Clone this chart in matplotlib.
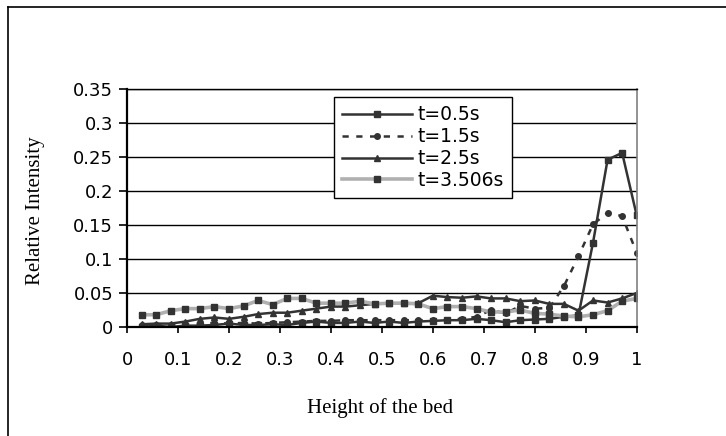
import numpy as np
import matplotlib
matplotlib.use("Agg")
from matplotlib import pyplot as plt
from matplotlib.lines import Line2D


# bed height positions (35 equally spaced samples)
height = np.arange(1, 36) / 35

# relative intensity, one list per time
t_05 = [0.000, 0.002, 0.000, 0.002, 0.002, 0.003, 0.005, 0.003, 0.003, 0.004,
        0.003, 0.006, 0.008, 0.006, 0.006, 0.008, 0.006, 0.008, 0.006, 0.008,
        0.009, 0.010, 0.010, 0.012, 0.010, 0.007, 0.010, 0.011, 0.012, 0.015,
        0.017, 0.124, 0.246, 0.256, 0.164]
t_15 = [0.003, 0.003, 0.003, 0.004, 0.005, 0.006, 0.005, 0.006, 0.005, 0.006,
        0.007, 0.008, 0.009, 0.009, 0.010, 0.010, 0.010, 0.010, 0.010, 0.010,
        0.010, 0.011, 0.012, 0.015, 0.025, 0.020, 0.031, 0.027, 0.028, 0.060,
        0.104, 0.151, 0.168, 0.163, 0.109]
t_25 = [0.004, 0.005, 0.005, 0.008, 0.012, 0.014, 0.012, 0.015, 0.019, 0.021,
        0.021, 0.024, 0.027, 0.030, 0.030, 0.032, 0.034, 0.035, 0.035, 0.035,
        0.046, 0.044, 0.043, 0.045, 0.042, 0.042, 0.038, 0.039, 0.034, 0.034,
        0.024, 0.039, 0.036, 0.042, 0.050]
t_3506 = [0.018, 0.018, 0.024, 0.027, 0.027, 0.030, 0.027, 0.031, 0.039, 0.033,
          0.042, 0.042, 0.035, 0.035, 0.035, 0.038, 0.034, 0.035, 0.035, 0.034,
          0.027, 0.030, 0.030, 0.027, 0.022, 0.022, 0.025, 0.020, 0.019, 0.016,
          0.015, 0.018, 0.024, 0.038, 0.042]

labels = ["t=0.5s", "t=1.5s", "t=2.5s", "t=3.506s"]

dark = "#333333"

fig = plt.figure(figsize=(7.26, 4.36), dpi=100)
ax = fig.add_axes([0.175, 0.25, 0.702, 0.546])

ax.plot(height, t_05, color=dark, lw=1.8, marker="s", ms=4, label=labels[0])
ax.plot(height, t_15, color=dark, lw=1.8, ls=(0, (2.5, 3)), marker="o", ms=4,
        label=labels[1])
ax.plot(height, t_25, color=dark, lw=1.8, marker="^", ms=4.5, label=labels[2])
ax.plot(height, t_3506, color="#b0b0b0", lw=2.6, marker="s", ms=4,
        mfc=dark, mec=dark, label=labels[3])

ax.set_xlim(0, 1)
ax.set_ylim(0, 0.35)
ax.set_xticks(np.arange(0, 1.01, 0.1))
ax.set_yticks(np.arange(0, 0.351, 0.05))
ax.set_xticklabels(["0", "0.1", "0.2", "0.3", "0.4", "0.5", "0.6", "0.7",
                    "0.8", "0.9", "1"])
ax.set_yticklabels(["0", "0.05", "0.1", "0.15", "0.2", "0.25", "0.3", "0.35"])
ax.tick_params(axis="x", direction="out", length=4, width=1.2, pad=13,
               labelsize=13, colors="black")
ax.tick_params(axis="y", direction="out", length=6, width=1.2, pad=4,
               labelsize=13, colors="black")

ax.yaxis.grid(True, color="black", lw=1)
ax.set_axisbelow(True)
for side in ["left", "bottom"]:
    ax.spines[side].set_linewidth(1.6)
    ax.spines[side].set_color("black")
ax.spines["top"].set_color("black")
ax.spines["top"].set_linewidth(1)
ax.spines["right"].set_color("#808080")
ax.spines["right"].set_linewidth(1.2)

ax.set_xlabel("Height of the bed", fontsize=15, family="Liberation Serif")
ax.set_ylabel("Relative Intensity", fontsize=15, family="Liberation Serif")
ax.xaxis.set_label_coords(0.496, -0.30)
ax.yaxis.set_label_coords(-0.161, 0.487)

leg = ax.legend(loc="upper left", bbox_to_anchor=(0.406, 0.966),
                borderaxespad=0, fontsize=13.5, handlelength=3.7,
                handletextpad=0.3, labelspacing=0.15, borderpad=0.45,
                fancybox=False, framealpha=1, edgecolor="black")
leg.get_frame().set_linewidth(1)

# outer chart border (cut off at the right and bottom)
fig.add_artist(Line2D([8 / 726, 8 / 726], [0, 1 - 7 / 436], color="black",
                      lw=1.2, transform=fig.transFigure))
fig.add_artist(Line2D([8 / 726, 1], [1 - 7 / 436, 1 - 7 / 436], color="black",
                      lw=1.2, transform=fig.transFigure))

fig.savefig("out.png", dpi=100)
